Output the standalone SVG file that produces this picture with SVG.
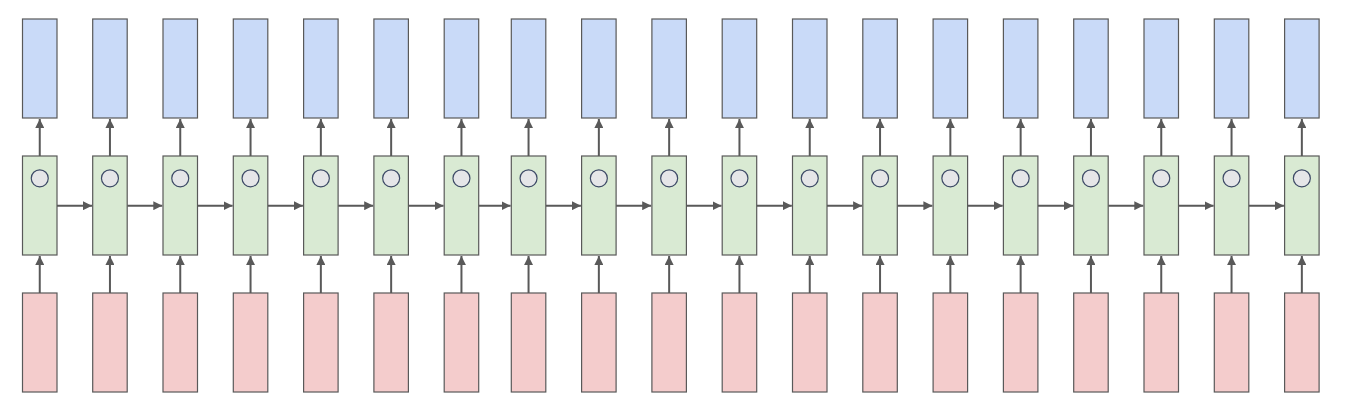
<svg xmlns="http://www.w3.org/2000/svg" width="1356" height="415" viewBox="0 0 1356 415">
<style>
.o{fill:#c9daf8;stroke:#595959;stroke-width:1.2}
.h{fill:#d9ead3;stroke:#595959;stroke-width:1.2}
.i{fill:#f4cccc;stroke:#595959;stroke-width:1.2}
.c{fill:#e5e6e8;stroke:#3d4a66;stroke-width:1.2}
.e{stroke:#595959;stroke-width:2;fill:none;marker-end:url(#ah)}
</style>
<defs>
<marker id="ah" viewBox="0 0 10 10" refX="10" refY="5" markerWidth="4.5" markerHeight="4.5" orient="auto" markerUnits="strokeWidth">
<path d="M0,0 L10,5 L0,10 z" fill="#595959"/>
</marker>
</defs>
<rect width="1356" height="415" fill="#ffffff"/>
<g id="connectors">
<path class="e" d="M39.75,293 V256"/><path class="e" d="M39.75,156 V119"/>
<path class="e" d="M109.95,293 V256"/><path class="e" d="M109.95,156 V119"/>
<path class="e" d="M180.25,293 V256"/><path class="e" d="M180.25,156 V119"/>
<path class="e" d="M250.55,293 V256"/><path class="e" d="M250.55,156 V119"/>
<path class="e" d="M320.85,293 V256"/><path class="e" d="M320.85,156 V119"/>
<path class="e" d="M391.15,293 V256"/><path class="e" d="M391.15,156 V119"/>
<path class="e" d="M461.45,293 V256"/><path class="e" d="M461.45,156 V119"/>
<path class="e" d="M528.55,293 V256"/><path class="e" d="M528.55,156 V119"/>
<path class="e" d="M598.85,293 V256"/><path class="e" d="M598.85,156 V119"/>
<path class="e" d="M669.15,293 V256"/><path class="e" d="M669.15,156 V119"/>
<path class="e" d="M739.45,293 V256"/><path class="e" d="M739.45,156 V119"/>
<path class="e" d="M809.75,293 V256"/><path class="e" d="M809.75,156 V119"/>
<path class="e" d="M880.05,293 V256"/><path class="e" d="M880.05,156 V119"/>
<path class="e" d="M950.35,293 V256"/><path class="e" d="M950.35,156 V119"/>
<path class="e" d="M1020.65,293 V256"/><path class="e" d="M1020.65,156 V119"/>
<path class="e" d="M1090.95,293 V256"/><path class="e" d="M1090.95,156 V119"/>
<path class="e" d="M1161.25,293 V256"/><path class="e" d="M1161.25,156 V119"/>
<path class="e" d="M1231.55,293 V256"/><path class="e" d="M1231.55,156 V119"/>
<path class="e" d="M1301.85,293 V256"/><path class="e" d="M1301.85,156 V119"/>
<path class="e" d="M57,205.7 H92"/>
<path class="e" d="M127.2,205.7 H162.3"/>
<path class="e" d="M197.5,205.7 H232.6"/>
<path class="e" d="M267.8,205.7 H302.9"/>
<path class="e" d="M338.1,205.7 H373.2"/>
<path class="e" d="M408.4,205.7 H443.5"/>
<path class="e" d="M478.7,205.7 H510.6"/>
<path class="e" d="M545.8,205.7 H580.9"/>
<path class="e" d="M616.1,205.7 H651.2"/>
<path class="e" d="M686.4,205.7 H721.5"/>
<path class="e" d="M756.7,205.7 H791.8"/>
<path class="e" d="M827,205.7 H862.1"/>
<path class="e" d="M897.3,205.7 H932.4"/>
<path class="e" d="M967.6,205.7 H1002.7"/>
<path class="e" d="M1037.9,205.7 H1073"/>
<path class="e" d="M1108.2,205.7 H1143.3"/>
<path class="e" d="M1178.5,205.7 H1213.6"/>
<path class="e" d="M1248.8,205.7 H1283.9"/>
</g>
<g id="col1"><rect class="o" x="22.5" y="19" width="34.5" height="99"/><rect class="h" x="22.5" y="156" width="34.5" height="99"/><circle class="c" cx="39.75" cy="178.3" r="8.5"/><rect class="i" x="22.5" y="293" width="34.5" height="99"/></g>
<g id="col2"><rect class="o" x="92.7" y="19" width="34.5" height="99"/><rect class="h" x="92.7" y="156" width="34.5" height="99"/><circle class="c" cx="109.95" cy="178.3" r="8.5"/><rect class="i" x="92.7" y="293" width="34.5" height="99"/></g>
<g id="col3"><rect class="o" x="163" y="19" width="34.5" height="99"/><rect class="h" x="163" y="156" width="34.5" height="99"/><circle class="c" cx="180.25" cy="178.3" r="8.5"/><rect class="i" x="163" y="293" width="34.5" height="99"/></g>
<g id="col4"><rect class="o" x="233.3" y="19" width="34.5" height="99"/><rect class="h" x="233.3" y="156" width="34.5" height="99"/><circle class="c" cx="250.55" cy="178.3" r="8.5"/><rect class="i" x="233.3" y="293" width="34.5" height="99"/></g>
<g id="col5"><rect class="o" x="303.6" y="19" width="34.5" height="99"/><rect class="h" x="303.6" y="156" width="34.5" height="99"/><circle class="c" cx="320.85" cy="178.3" r="8.5"/><rect class="i" x="303.6" y="293" width="34.5" height="99"/></g>
<g id="col6"><rect class="o" x="373.9" y="19" width="34.5" height="99"/><rect class="h" x="373.9" y="156" width="34.5" height="99"/><circle class="c" cx="391.15" cy="178.3" r="8.5"/><rect class="i" x="373.9" y="293" width="34.5" height="99"/></g>
<g id="col7"><rect class="o" x="444.2" y="19" width="34.5" height="99"/><rect class="h" x="444.2" y="156" width="34.5" height="99"/><circle class="c" cx="461.45" cy="178.3" r="8.5"/><rect class="i" x="444.2" y="293" width="34.5" height="99"/></g>
<g id="col8"><rect class="o" x="511.3" y="19" width="34.5" height="99"/><rect class="h" x="511.3" y="156" width="34.5" height="99"/><circle class="c" cx="528.55" cy="178.3" r="8.5"/><rect class="i" x="511.3" y="293" width="34.5" height="99"/></g>
<g id="col9"><rect class="o" x="581.6" y="19" width="34.5" height="99"/><rect class="h" x="581.6" y="156" width="34.5" height="99"/><circle class="c" cx="598.85" cy="178.3" r="8.5"/><rect class="i" x="581.6" y="293" width="34.5" height="99"/></g>
<g id="col10"><rect class="o" x="651.9" y="19" width="34.5" height="99"/><rect class="h" x="651.9" y="156" width="34.5" height="99"/><circle class="c" cx="669.15" cy="178.3" r="8.5"/><rect class="i" x="651.9" y="293" width="34.5" height="99"/></g>
<g id="col11"><rect class="o" x="722.2" y="19" width="34.5" height="99"/><rect class="h" x="722.2" y="156" width="34.5" height="99"/><circle class="c" cx="739.45" cy="178.3" r="8.5"/><rect class="i" x="722.2" y="293" width="34.5" height="99"/></g>
<g id="col12"><rect class="o" x="792.5" y="19" width="34.5" height="99"/><rect class="h" x="792.5" y="156" width="34.5" height="99"/><circle class="c" cx="809.75" cy="178.3" r="8.5"/><rect class="i" x="792.5" y="293" width="34.5" height="99"/></g>
<g id="col13"><rect class="o" x="862.8" y="19" width="34.5" height="99"/><rect class="h" x="862.8" y="156" width="34.5" height="99"/><circle class="c" cx="880.05" cy="178.3" r="8.5"/><rect class="i" x="862.8" y="293" width="34.5" height="99"/></g>
<g id="col14"><rect class="o" x="933.1" y="19" width="34.5" height="99"/><rect class="h" x="933.1" y="156" width="34.5" height="99"/><circle class="c" cx="950.35" cy="178.3" r="8.5"/><rect class="i" x="933.1" y="293" width="34.5" height="99"/></g>
<g id="col15"><rect class="o" x="1003.4" y="19" width="34.5" height="99"/><rect class="h" x="1003.4" y="156" width="34.5" height="99"/><circle class="c" cx="1020.65" cy="178.3" r="8.5"/><rect class="i" x="1003.4" y="293" width="34.5" height="99"/></g>
<g id="col16"><rect class="o" x="1073.7" y="19" width="34.5" height="99"/><rect class="h" x="1073.7" y="156" width="34.5" height="99"/><circle class="c" cx="1090.95" cy="178.3" r="8.5"/><rect class="i" x="1073.7" y="293" width="34.5" height="99"/></g>
<g id="col17"><rect class="o" x="1144" y="19" width="34.5" height="99"/><rect class="h" x="1144" y="156" width="34.5" height="99"/><circle class="c" cx="1161.25" cy="178.3" r="8.5"/><rect class="i" x="1144" y="293" width="34.5" height="99"/></g>
<g id="col18"><rect class="o" x="1214.3" y="19" width="34.5" height="99"/><rect class="h" x="1214.3" y="156" width="34.5" height="99"/><circle class="c" cx="1231.55" cy="178.3" r="8.5"/><rect class="i" x="1214.3" y="293" width="34.5" height="99"/></g>
<g id="col19"><rect class="o" x="1284.6" y="19" width="34.5" height="99"/><rect class="h" x="1284.6" y="156" width="34.5" height="99"/><circle class="c" cx="1301.85" cy="178.3" r="8.5"/><rect class="i" x="1284.6" y="293" width="34.5" height="99"/></g>
</svg>
